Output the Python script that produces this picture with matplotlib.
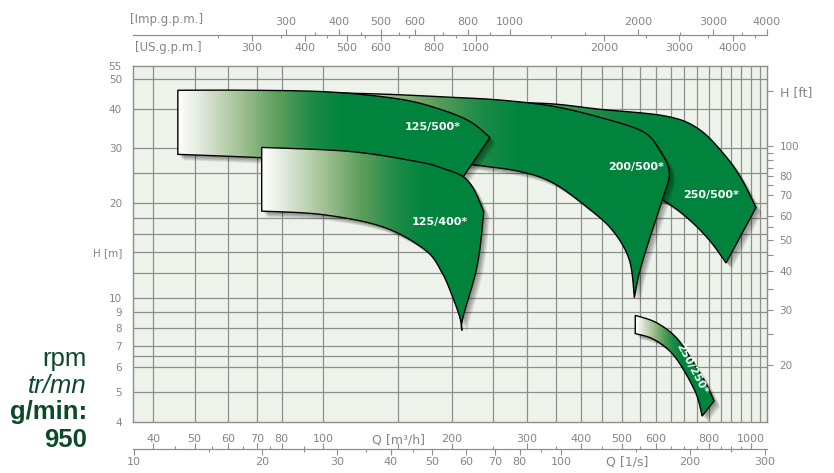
import numpy as np
import matplotlib
matplotlib.use('Agg')
import matplotlib.pyplot as plt
import matplotlib.transforms as mtransforms
from matplotlib.patches import Polygon
from matplotlib.colors import LinearSegmentedColormap
from matplotlib.ticker import NullLocator, NullFormatter

# ---- curvas (Q en m3/h, H en m) ----
q_125_500_top = [45.7, 67.7, 104, 151, 187.6, 220, 245.5]
h_125_500_top = [46.0, 46.0, 45.4, 43.1, 40.0, 36.6, 32.5]
q_125_500_bot = [45.7, 71.4, 115.8, 168.5, 200]
h_125_500_bot = [28.7, 28.0, 27.0, 24.5, 21.5]

q_125_400_top = [71.8, 115.8, 165.9, 190, 216.9, 235, 236.4, 228.8, 212.3, 211]
h_125_400_top = [30.2, 29.3, 27.2, 25.9, 23.8, 19.5, 17.7, 12.5, 8.64, 7.85]
q_125_400_bot = [71.8, 100.1, 138.2, 173.1, 189.7, 201, 208.9, 211]
h_125_400_bot = [18.9, 18.4, 16.8, 14.2, 12.0, 10.0, 8.6, 7.85]

q_200_500_top = [88.5, 138.2, 198, 259, 344, 443, 558, 611, 645, 621, 579, 549, 534.5]
h_200_500_top = [45.4, 44.7, 43.7, 42.8, 40.9, 37.7, 34.0, 29.7, 25.1, 20.5, 15.3, 12.0, 10.0]
q_200_500_bot = [88.5, 151, 224, 288, 344, 413, 475, 520, 534.5]
h_200_500_bot = [29.7, 28.7, 26.6, 25.3, 23.3, 19.5, 16.4, 13.2, 10.0]

q_250_500_top = [136, 259, 344, 443, 634.5, 757.5, 875.7, 954, 1029]
h_250_500_top = [44.0, 42.2, 41.6, 40.0, 38.0, 34.5, 28.2, 23.8, 19.4]
q_250_500_bot = [136, 224, 344, 443, 549, 621, 706.5, 799, 875.7]
h_250_500_bot = [28.7, 27.6, 26.0, 23.8, 21.6, 20.5, 18.1, 15.3, 12.9]

q_250_250_top = [537, 601, 669.5, 729.6, 786.5, 821]
h_250_250_top = [8.77, 8.32, 7.45, 6.28, 5.30, 4.67]
q_250_250_bot = [537, 588.6, 645, 691.6, 745.5, 770]
h_250_250_bot = [7.67, 7.39, 6.77, 5.97, 4.92, 4.18]

nombres = ['250/500*', '200/500*', '125/500*', '125/400*', '250/250*']
label_q = [808, 540, 180.7, 187.6, 729.6]
label_h = [21.2, 26.2, 35.0, 17.5, 5.92]
label_rot = [0, 0, 0, 0, -62]

# ejes
ticks_m3 = [40, 50, 60, 70, 80, 100, 150, 200, 300, 400, 500, 600, 800, 1000]
ticks_m3_menor = [45, 55, 65, 75, 90, 250, 350, 450, 550, 650, 700, 750, 850, 900, 950]
ticks_ls = [10, 20, 30, 40, 50, 60, 70, 80, 100, 200, 300]
ticks_ls_menor = [15, 25, 35, 45, 90, 150, 250]
ticks_imp = [300, 400, 500, 600, 800, 1000, 2000, 3000, 4000]
ticks_imp_menor = [350, 450, 550, 700, 900, 1500, 2500, 3500]
ticks_us = [300, 400, 500, 600, 800, 1000, 2000, 3000, 4000]
ticks_us_menor = [250, 350, 450, 550, 700, 900, 1500, 2500, 3500, 4500]
ticks_hm = [4, 5, 6, 7, 8, 9, 10, 14, 20, 30, 40, 50, 55]
ticks_ft = [20, 30, 40, 50, 60, 70, 80, 100, 150]
ticks_ft_menor = [25, 35, 45, 55, 75, 85, 90, 95]
grid_q = [40, 50, 60, 70, 80, 100, 150] + list(range(200, 1051, 50))
grid_h = [5, 6, 6.5, 7, 8, 9, 10, 12, 14, 16, 18, 20, 25, 30, 40, 50]

gris = '#8e8e8e'
gris_txt = '#858585'
verde_osc = '#0c4a27'
cmap_verde = LinearSegmentedColormap.from_list('verde', [(0, '#ffffff'), (0.12, '#e4ebe0'), (0.35, '#a9c59b'),
                                                         (0.6, '#5e9f5c'), (0.82, '#1c8b47'), (1, '#00843d')])


def suave(q, h, n=16):
    # catmull-rom en escala log
    pts = np.column_stack([np.log10(q), np.log10(h)])
    p = np.vstack([pts[0], pts, pts[-1]])
    out = []
    t = np.linspace(0, 1, n, endpoint=False)[:, None]
    for i in range(1, len(p) - 2):
        p0, p1, p2, p3 = p[i - 1], p[i], p[i + 1], p[i + 2]
        out.append(0.5 * (2 * p1 + (-p0 + p2) * t + (2 * p0 - 5 * p1 + 4 * p2 - p3) * t ** 2
                          + (-p0 + 3 * p1 - 3 * p2 + p3) * t ** 3))
    out.append(pts[-1:])
    out = np.vstack(out)
    return 10 ** out[:, 0], 10 ** out[:, 1]


fig = plt.figure(figsize=(8.34, 4.73), dpi=100)
ax = fig.add_axes([0.1595, 0.1078, 0.7602, 0.7527])
ax.set_xscale('log')
ax.set_yscale('log')
ax.set_xlim(35.9, 1092)
ax.set_ylim(4, 55)
ax.set_autoscale_on(False)
ax.set_facecolor('#edf3ea')
for s in ax.spines.values():
    s.set_color(gris)
    s.set_linewidth(1)

for q in grid_q:
    ax.axvline(q, color=gris, lw=0.9, zorder=1)
for h in grid_h:
    ax.axhline(h, color=gris, lw=0.9, zorder=1)


def banda(qt, ht, qb, hb, largo_px, z):
    xt, yt = suave(qt, ht)
    xb, yb = suave(qb, hb)
    verts = np.vstack([np.column_stack([xt, yt]), np.column_stack([xb[::-1], yb[::-1]])])
    # sombra
    for k in range(2, 7):
        off = mtransforms.ScaledTranslation(k / 100, -k / 100, fig.dpi_scale_trans)
        ax.add_patch(Polygon(verts, closed=True, fc='black', ec='none', alpha=0.085,
                             transform=ax.transData + off, zorder=z))
    borde = Polygon(verts, closed=True, fc='none', ec='black', lw=1.0, zorder=z + 0.2)
    ax.add_patch(borde)
    x0 = ax.transAxes.inverted().transform(ax.transData.transform((qt[0], 10)))[0]
    xs = np.linspace(0, 1, 1000)
    t = np.clip((xs - x0) * ax.bbox.width / largo_px, 0, 1)
    im = ax.imshow(t[None, :], extent=(0, 1, 0, 1), transform=ax.transAxes, cmap=cmap_verde,
                   vmin=0, vmax=1, aspect='auto', interpolation='bilinear', zorder=z + 0.1)
    im.set_clip_path(borde)


banda(q_250_500_top, h_250_500_top, q_250_500_bot, h_250_500_bot, 260, 3)
banda(q_200_500_top, h_200_500_top, q_200_500_bot, h_200_500_bot, 220, 4)
banda(q_125_500_top, h_125_500_top, q_125_500_bot, h_125_500_bot, 165, 5)
banda(q_125_400_top, h_125_400_top, q_125_400_bot, h_125_400_bot, 165, 6)
banda(q_250_250_top, h_250_250_top, q_250_250_bot, h_250_250_bot, 45, 7)

for i in range(len(nombres)):
    ax.text(label_q[i], label_h[i], nombres[i], color='white', fontsize=8, fontweight='bold',
            ha='center', va='center', rotation=label_rot[i], zorder=8)

# eje izquierdo H [m]
ax.set_yticks(ticks_hm, [('H [m]' if v == 14 else str(v)) for v in ticks_hm])
ax.yaxis.set_minor_locator(NullLocator())
ax.tick_params(axis='y', length=0, pad=8, labelsize=7.5, labelcolor=gris_txt)

# eje Q m3/h (etiquetas)
ax.set_xticks(ticks_m3, [('Q [m³/h]' if v == 150 else str(v)) for v in ticks_m3])
ax.xaxis.set_minor_locator(NullLocator())
ax.tick_params(axis='x', length=0, pad=8.5, labelsize=8, labelcolor=gris_txt)
for lab in ax.get_xticklabels():
    if lab.get_text().startswith('Q'):
        lab.set_fontsize(9)

# linea inferior: marcas m3/h hacia arriba y l/s hacia abajo
loc_inf = -0.076
eje_m3 = ax.secondary_xaxis(loc_inf, functions=(lambda q: q, lambda q: q))
eje_m3.set_alignment('top')
eje_m3.set_xticks(ticks_m3)
eje_m3.set_xticks(ticks_m3_menor, minor=True)
eje_m3.xaxis.set_minor_formatter(NullFormatter())
eje_m3.tick_params(which='both', direction='out', labeltop=False, labelbottom=False, color=gris, width=0.8)
eje_m3.tick_params(which='major', length=4)
eje_m3.tick_params(which='minor', length=2.5)

eje_ls = ax.secondary_xaxis(loc_inf, functions=(lambda q: q / 3.6, lambda v: v * 3.6))
eje_ls.set_xticks(ticks_ls, [str(v) for v in ticks_ls])
eje_ls.set_xticks(ticks_ls_menor, minor=True)
eje_ls.xaxis.set_minor_formatter(NullFormatter())
eje_ls.tick_params(which='both', direction='out', color=gris, width=0.8, pad=1.5,
                   labelsize=8, labelcolor=gris_txt)
eje_ls.tick_params(which='major', length=4)
eje_ls.tick_params(which='minor', length=2.5)
for s in eje_m3.spines.values():
    s.set_color(gris)
for s in eje_ls.spines.values():
    s.set_color(gris)
ax.text(143 * 3.6, -0.113, 'Q [1/s]', transform=ax.get_xaxis_transform(),
        ha='center', va='center', fontsize=9, color=gris_txt)

# linea superior: Imp.g.p.m. arriba, US.g.p.m. abajo
loc_sup = 1.087
eje_imp = ax.secondary_xaxis(loc_sup, functions=(lambda q: q * 3.666, lambda g: g / 3.666))
eje_imp.set_xticks(ticks_imp, [str(v) for v in ticks_imp])
eje_imp.set_xticks(ticks_imp_menor, minor=True)
eje_imp.xaxis.set_minor_formatter(NullFormatter())
eje_imp.tick_params(which='both', direction='out', color=gris, width=0.8, pad=2,
                    labelsize=8, labelcolor=gris_txt)
eje_imp.tick_params(which='major', length=4)
eje_imp.tick_params(which='minor', length=2.5)

eje_us = ax.secondary_xaxis(loc_sup, functions=(lambda q: q * 4.403, lambda g: g / 4.403))
eje_us.set_alignment('bottom')
eje_us.set_xticks(ticks_us, [str(v) for v in ticks_us])
eje_us.set_xticks(ticks_us_menor, minor=True)
eje_us.xaxis.set_minor_formatter(NullFormatter())
eje_us.tick_params(which='both', direction='out', color=gris, width=0.8, pad=2,
                   labelsize=8, labelcolor=gris_txt, labeltop=False, labelbottom=True)
eje_us.tick_params(which='major', length=4)
eje_us.tick_params(which='minor', length=2.5)
for s in eje_imp.spines.values():
    s.set_color(gris)
for s in eje_us.spines.values():
    s.set_color(gris)

fig.text(130 / 834, 1 - 20 / 473, '[Imp.g.p.m.]', fontsize=8.5, color=gris_txt, ha='left', va='center')
fig.text(135 / 834, 1 - 47 / 473, '[US.g.p.m.]', fontsize=8.5, color=gris_txt, ha='left', va='center')

# eje derecho H [ft]
eje_ft = ax.secondary_yaxis('right', functions=(lambda m: m * 3.2808, lambda f: f / 3.2808))
eje_ft.set_yticks(ticks_ft, [('H [ft]' if v == 150 else str(v)) for v in ticks_ft])
eje_ft.set_yticks(ticks_ft_menor, minor=True)
eje_ft.yaxis.set_minor_formatter(NullFormatter())
eje_ft.tick_params(which='both', direction='out', length=4, width=0.8, color=gris, pad=5,
                   labelsize=7.5, labelcolor=gris_txt)
for s in eje_ft.spines.values():
    s.set_color(gris)
for lab in eje_ft.get_yticklabels():
    if lab.get_text().startswith('H'):
        lab.set_fontsize(9)

# rpm
fuente = 'Liberation Sans'
fig.text(87 / 834, 1 - 366 / 473, 'rpm', ha='right', va='baseline', fontsize=18.5, color=verde_osc, family=fuente)
fig.text(87 / 834, 1 - 393 / 473, 'tr/mn', ha='right', va='baseline', fontsize=18.5, color=verde_osc,
         family=fuente, style='italic')
fig.text(87 / 834, 1 - 419 / 473, 'g/min:', ha='right', va='baseline', fontsize=18.5, color=verde_osc,
         family=fuente, fontweight='bold')
fig.text(87 / 834, 1 - 447 / 473, '950', ha='right', va='baseline', fontsize=18.5, color=verde_osc,
         family=fuente, fontweight='bold')

fig.savefig('out.png', dpi=100)
